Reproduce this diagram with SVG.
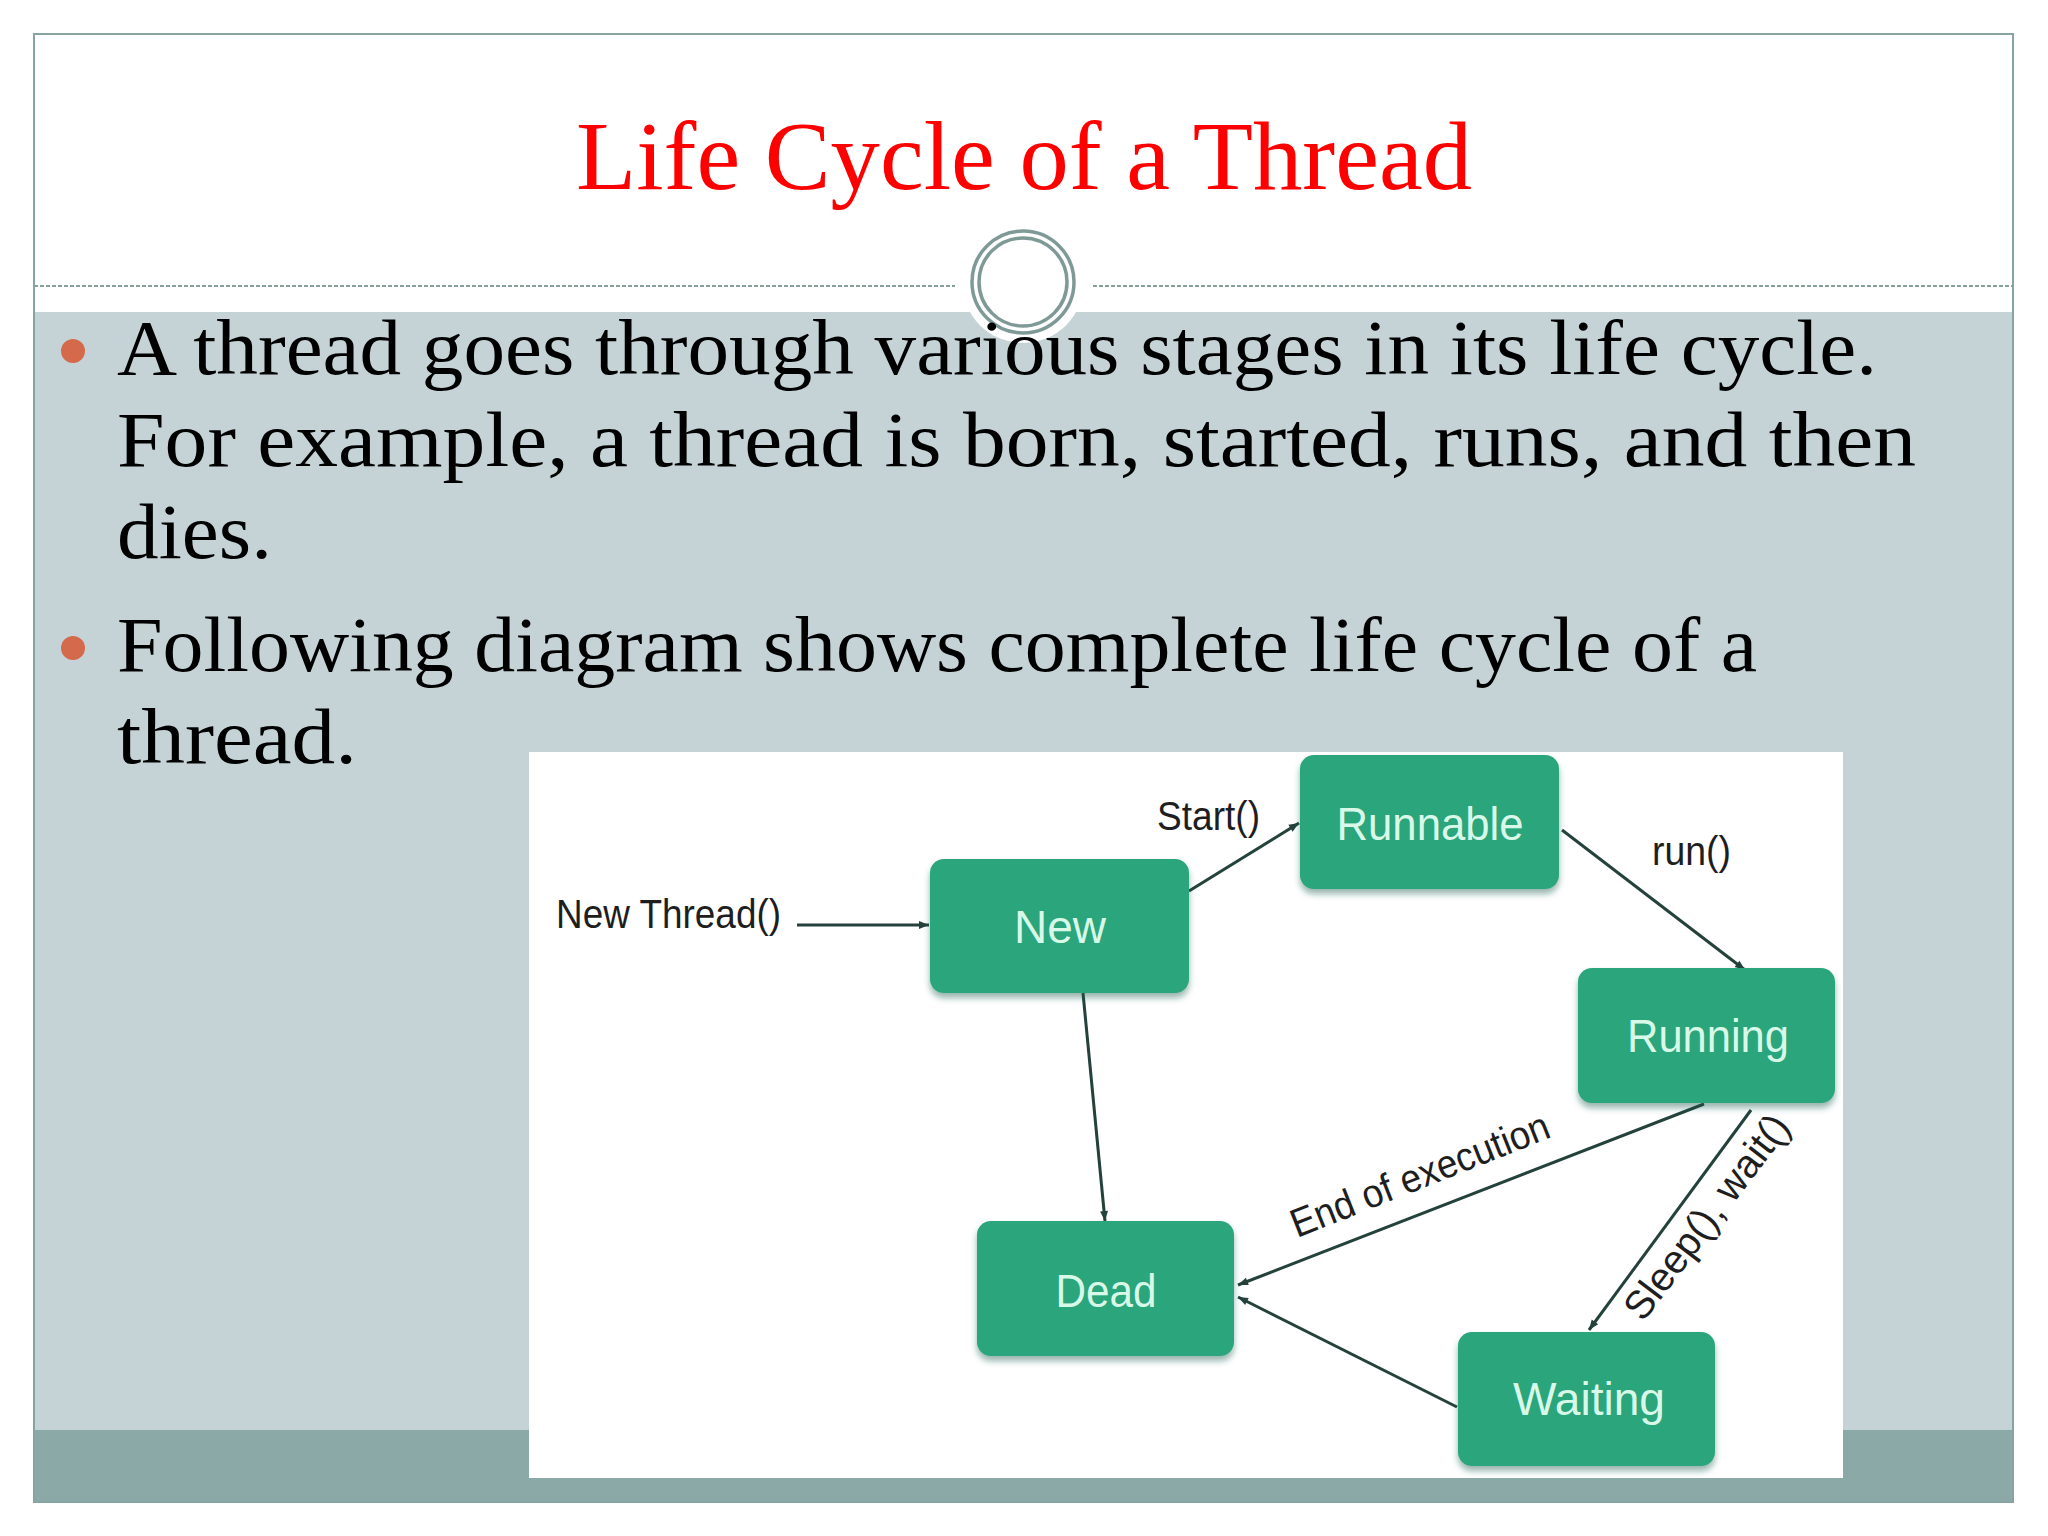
<svg xmlns="http://www.w3.org/2000/svg" width="2048" height="1536" viewBox="0 0 2048 1536">
<style>
.title{font-family:"Liberation Serif",Georgia,serif;font-size:98px;fill:#ff0000}
.body{font-family:"Liberation Serif",Georgia,serif;font-size:78px;fill:#000}
.bullet{fill:#d5694c}
.node rect{fill:#2aa57b;filter:url(#sh)}
.node text{font-family:"Liberation Sans",Arial,sans-serif;font-size:46px;fill:#d9f9e8;text-anchor:middle}
.lbl{font-family:"Liberation Sans",Arial,sans-serif;font-size:40px;fill:#1e1e1e}
.conn line{stroke:#24423b;stroke-width:3;marker-end:url(#ah)}
</style>
<defs>
<filter id="sh" x="-10%" y="-10%" width="120%" height="130%">
<feDropShadow dx="0" dy="5" stdDeviation="3" flood-color="#1d5a4a" flood-opacity="0.45"/>
</filter>
<marker id="ah" viewBox="0 0 10 10" refX="10" refY="5" markerWidth="12" markerHeight="10" markerUnits="userSpaceOnUse" orient="auto">
<path d="M0,1 L10,5 L0,9 z" fill="#24423b"/>
</marker>
</defs>
<rect x="0" y="0" width="2048" height="1536" fill="#ffffff"/>
<g id="slide">
<rect x="34" y="34" width="1979" height="278" fill="#ffffff"/>
<rect x="34" y="312" width="1979" height="1118" fill="#c5d3d7"/>
<rect x="34" y="1430" width="1979" height="72" fill="#8aa9a7"/>
<rect x="34" y="34" width="1979" height="1468" fill="none" stroke="#86a5a2" stroke-width="2"/>
<line x1="34" y1="286" x2="955" y2="286" stroke="#86a09c" stroke-width="2" stroke-dasharray="4 2"/>
<line x1="1093" y1="286" x2="2013" y2="286" stroke="#86a09c" stroke-width="2" stroke-dasharray="4 2"/>
<circle cx="1023" cy="282" r="61" fill="#ffffff"/>
<circle cx="1023" cy="282" r="51" fill="none" stroke="#7f9a96" stroke-width="3.5"/>
<circle cx="1023" cy="282" r="44" fill="none" stroke="#7f9a96" stroke-width="3.5"/>
</g>
<text class="title" x="576" y="189" textLength="896" lengthAdjust="spacingAndGlyphs">Life Cycle of a Thread</text>
<g id="bullets">
<circle class="bullet" cx="73" cy="351" r="12"/>
<circle class="bullet" cx="73" cy="648" r="12"/>
<text class="body" x="117" y="374" textLength="1760" lengthAdjust="spacingAndGlyphs">A thread goes through various stages in its life cycle.</text>
<text class="body" x="117" y="466" textLength="1799" lengthAdjust="spacingAndGlyphs">For example, a thread is born, started, runs, and then</text>
<text class="body" x="117" y="558" textLength="155" lengthAdjust="spacingAndGlyphs">dies.</text>
<text class="body" x="117" y="671" textLength="1640" lengthAdjust="spacingAndGlyphs">Following diagram shows complete life cycle of a</text>
<text class="body" x="117" y="763" textLength="240" lengthAdjust="spacingAndGlyphs">thread.</text>
</g>
<rect id="diagram-bg" x="529" y="752" width="1314" height="726" fill="#ffffff"/>
<g id="connectors" class="conn">
<line x1="797" y1="925" x2="929" y2="925"/>
<line x1="1189" y1="891" x2="1299" y2="823"/>
<line x1="1562" y1="830" x2="1745" y2="970"/>
<line x1="1083" y1="993" x2="1105" y2="1221"/>
<line x1="1704" y1="1104" x2="1238" y2="1285"/>
<line x1="1751" y1="1110" x2="1589" y2="1330"/>
<line x1="1457" y1="1407" x2="1238" y2="1297"/>
</g>
<g id="edge-labels">
<text class="lbl" x="556" y="928" textLength="225" lengthAdjust="spacingAndGlyphs">New Thread()</text>
<text class="lbl" x="1157" y="830" textLength="103" lengthAdjust="spacingAndGlyphs">Start()</text>
<text class="lbl" x="1652" y="865" textLength="79" lengthAdjust="spacingAndGlyphs">run()</text>
<text class="lbl" transform="translate(1297,1238) rotate(-21.6)" textLength="275" lengthAdjust="spacingAndGlyphs">End of execution</text>
<text class="lbl" transform="translate(1643,1323) rotate(-52.8)" textLength="246" lengthAdjust="spacingAndGlyphs">Sleep(), wait()</text>
</g>
<g id="node-new" class="node">
<rect x="930" y="859" width="259" height="134" rx="14"/>
<text x="1060" y="943">New</text>
</g>
<g id="node-runnable" class="node">
<rect x="1300" y="755" width="259" height="134" rx="14"/>
<text x="1430" y="840" textLength="187" lengthAdjust="spacingAndGlyphs">Runnable</text>
</g>
<g id="node-running" class="node">
<rect x="1578" y="968" width="257" height="135" rx="14"/>
<text x="1708" y="1052" textLength="162" lengthAdjust="spacingAndGlyphs">Running</text>
</g>
<g id="node-dead" class="node">
<rect x="977" y="1221" width="257" height="135" rx="14"/>
<text x="1106" y="1307" textLength="101" lengthAdjust="spacingAndGlyphs">Dead</text>
</g>
<g id="node-waiting" class="node">
<rect x="1458" y="1332" width="257" height="134" rx="14"/>
<text x="1589" y="1415" textLength="152" lengthAdjust="spacingAndGlyphs">Waiting</text>
</g>
</svg>
